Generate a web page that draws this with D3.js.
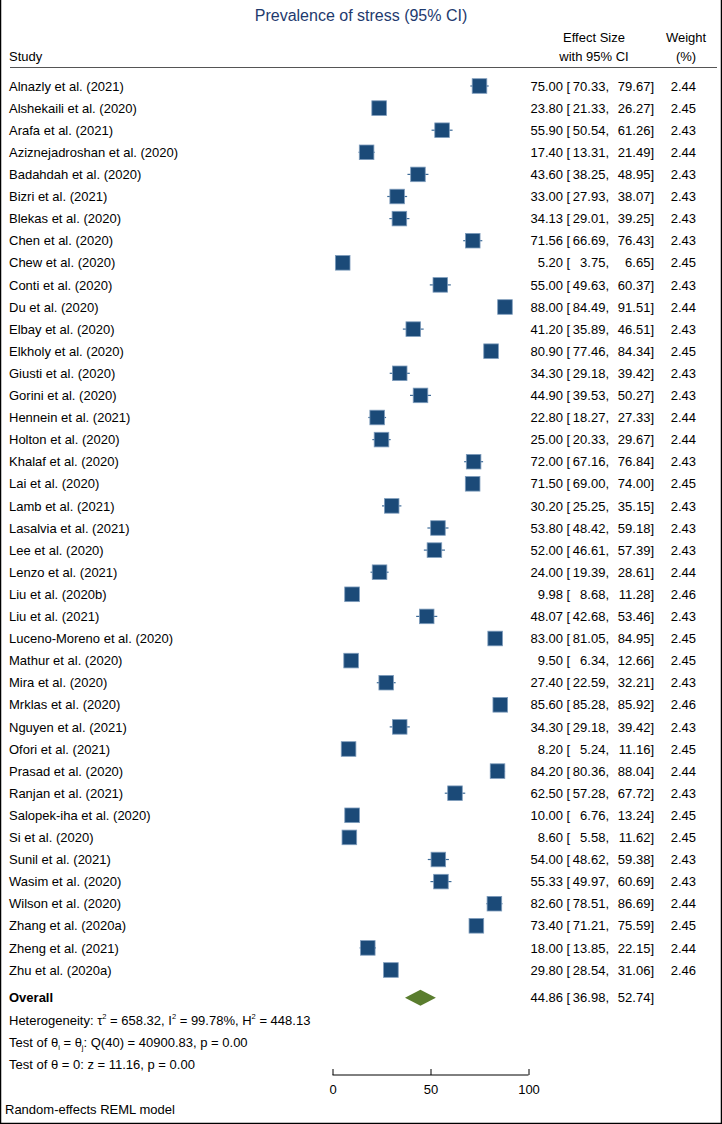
<!DOCTYPE html>
<html><head><meta charset="utf-8">
<script src="https://cdn.jsdelivr.net/npm/d3@7"></script>
<style>body{margin:0;background:#fff}svg{display:block;font-family:"Liberation Sans",Arial,Helvetica,sans-serif}</style>
</head><body><svg id="c" width="722" height="1124"></svg>
<script>
const studies = ["Alnazly et al. (2021)","Alshekaili et al. (2020)","Arafa et al. (2021)","Aziznejadroshan et al. (2020)","Badahdah et al. (2020)","Bizri et al. (2021)","Blekas et al. (2020)","Chen et al. (2020)","Chew et al. (2020)","Conti et al. (2020)","Du et al. (2020)","Elbay et al. (2020)","Elkholy et al. (2020)","Giusti et al. (2020)","Gorini et al. (2020)","Hennein et al. (2021)","Holton et al. (2020)","Khalaf et al. (2020)","Lai et al. (2020)","Lamb et al. (2021)","Lasalvia et al. (2021)","Lee et al. (2020)","Lenzo et al. (2021)","Liu et al. (2020b)","Liu et al. (2021)","Luceno-Moreno et al. (2020)","Mathur et al. (2020)","Mira et al. (2020)","Mrklas et al. (2020)","Nguyen et al. (2021)","Ofori et al. (2021)","Prasad et al. (2020)","Ranjan et al. (2021)","Salopek-iha et al. (2020)","Si et al. (2020)","Sunil et al. (2021)","Wasim et al. (2020)","Wilson et al. (2020)","Zhang et al. (2020a)","Zheng et al. (2021)","Zhu et al. (2020a)"];
const effect = [75.00,23.80,55.90,17.40,43.60,33.00,34.13,71.56,5.20,55.00,88.00,41.20,80.90,34.30,44.90,22.80,25.00,72.00,71.50,30.20,53.80,52.00,24.00,9.98,48.07,83.00,9.50,27.40,85.60,34.30,8.20,84.20,62.50,10.00,8.60,54.00,55.33,82.60,73.40,18.00,29.80];
const lower = [70.33,21.33,50.54,13.31,38.25,27.93,29.01,66.69,3.75,49.63,84.49,35.89,77.46,29.18,39.53,18.27,20.33,67.16,69.00,25.25,48.42,46.61,19.39,8.68,42.68,81.05,6.34,22.59,85.28,29.18,5.24,80.36,57.28,6.76,5.58,48.62,49.97,78.51,71.21,13.85,28.54];
const upper = [79.67,26.27,61.26,21.49,48.95,38.07,39.25,76.43,6.65,60.37,91.51,46.51,84.34,39.42,50.27,27.33,29.67,76.84,74.00,35.15,59.18,57.39,28.61,11.28,53.46,84.95,12.66,32.21,85.92,39.42,11.16,88.04,67.72,13.24,11.62,59.38,60.69,86.69,75.59,22.15,31.06];
const weight = [2.44,2.45,2.43,2.44,2.43,2.43,2.43,2.43,2.45,2.43,2.44,2.43,2.45,2.43,2.43,2.44,2.44,2.43,2.45,2.43,2.43,2.43,2.44,2.46,2.43,2.45,2.45,2.43,2.46,2.43,2.45,2.44,2.43,2.45,2.45,2.43,2.43,2.44,2.45,2.44,2.46];
const overall = {label:"Overall", effect:44.86, lower:36.98, upper:52.74};
const xTicks = [0,50,100];
const statLines = ["Heterogeneity", "Test of θ", "Test of θ = 0: z = 11.16, p = 0.00"];

const svg = d3.select("#c");
const fs = 13;
const x = d3.scaleLinear().domain([0,100]).range([332.5,528.5]);
const y = d3.scaleLinear().domain([0,40]).range([86,970]);
const size = d3.scaleSqrt().domain([0,2.44]).range([0,14.6]);
const tx = 9;

// frame
svg.append("path").attr("d","M0.5,0 V1123.5 H721.5 V0").attr("fill","none").attr("stroke","#000").attr("stroke-width",1.5);

// title
svg.append("text").attr("x",361).attr("y",21).attr("text-anchor","middle").attr("font-size",16).attr("fill","#1e3a6e").text("Prevalence of stress (95% CI)");

// headers
const hdr = svg.append("g").attr("font-size",fs).attr("fill","#000");
hdr.append("text").attr("x",tx).attr("y",61).text("Study");
hdr.append("text").attr("x",594).attr("y",42).attr("text-anchor","middle").text("Effect Size");
hdr.append("text").attr("x",594).attr("y",61).attr("text-anchor","middle").text("with 95% CI");
hdr.append("text").attr("x",686).attr("y",42).attr("text-anchor","middle").text("Weight");
hdr.append("text").attr("x",686).attr("y",61).attr("text-anchor","middle").text("(%)");
svg.append("line").attr("x1",10).attr("x2",717).attr("y1",67.5).attr("y2",67.5).attr("stroke","#555").attr("stroke-width",1);

const rows = studies.map((s,i)=>({s,e:effect[i],l:lower[i],u:upper[i],w:weight[i],i}));
const f2 = d3.format(".2f");
const g = svg.append("g");
const row = g.selectAll("g.r").data(rows).join("g").attr("class","r").attr("transform",d=>`translate(0,${y(d.i)})`);
row.append("text").attr("x",tx).attr("y",4.6).attr("font-size",fs).text(d=>d.s);
row.append("line").attr("x1",d=>x(d.l)).attr("x2",d=>x(d.u)).attr("y1",0).attr("y2",0).attr("stroke","#3d6b98").attr("stroke-width",1.2);
row.append("rect").attr("x",d=>x(d.e)-size(d.w)/2).attr("y",d=>-size(d.w)/2).attr("width",d=>size(d.w)).attr("height",d=>size(d.w))
  .attr("fill","#1b4a78").attr("stroke","#7e9cbc").attr("stroke-width",0.8);
function ciText(sel){
  sel.append("text").attr("x",563).attr("y",4.6).attr("text-anchor","end").attr("font-size",fs).text(d=>f2(d.e));
  sel.append("text").attr("x",566.5).attr("y",4.6).attr("font-size",fs).text("[");
  sel.append("text").attr("x",609).attr("y",4.6).attr("text-anchor","end").attr("font-size",fs).text(d=>f2(d.l)+",");
  sel.append("text").attr("x",654).attr("y",4.6).attr("text-anchor","end").attr("font-size",fs).text(d=>f2(d.u)+"]");
}
ciText(row);
row.append("text").attr("x",696).attr("y",4.6).attr("text-anchor","end").attr("font-size",fs).text(d=>f2(d.w));

// overall
const oy = y(41.25);
const og = svg.append("g").attr("transform",`translate(0,${oy})`);
og.append("text").attr("x",tx).attr("y",4.6).attr("font-size",fs).attr("font-weight","bold").text(overall.label);
og.append("path").attr("d",`M${x(overall.lower)},0 L${x(overall.effect)},-8 L${x(overall.upper)},0 L${x(overall.effect)},8 Z`).attr("fill","#5a7d2e");
ciText(og.selectAll("g").data([{e:overall.effect,l:overall.lower,u:overall.upper}]).join("g"));

// stats
const st = svg.append("g").attr("font-size",fs);
const t1 = st.append("text").attr("x",tx).attr("y",1024.5);
t1.append("tspan").text("Heterogeneity: τ");
t1.append("tspan").attr("dy",-6).attr("font-size",7.5).text("2");
t1.append("tspan").attr("dy",6).text(" = 658.32, I");
t1.append("tspan").attr("dy",-6).attr("font-size",7.5).text("2");
t1.append("tspan").attr("dy",6).text(" = 99.78%, H");
t1.append("tspan").attr("dy",-6).attr("font-size",7.5).text("2");
t1.append("tspan").attr("dy",6).text(" = 448.13");
const t2 = st.append("text").attr("x",tx).attr("y",1046.5);
t2.append("tspan").text("Test of θ");
t2.append("tspan").attr("dy",3).attr("font-size",7.5).text("i");
t2.append("tspan").attr("dy",-3).text(" = θ");
t2.append("tspan").attr("dy",3).attr("font-size",7.5).text("j");
t2.append("tspan").attr("dy",-3).text(": Q(40) = 40900.83, p = 0.00");
st.append("text").attr("x",tx).attr("y",1068.5).text(statLines[2]);

// axis
const ax = svg.append("g").attr("transform","translate(0,1075)")
  .call(d3.axisBottom(x).tickValues(xTicks).tickSize(-6).tickPadding(10).tickFormat(d3.format("d")));
ax.select(".domain").attr("d",`M${x(0)},0H${x(100)}`).attr("stroke","#000");
ax.selectAll(".tick line").attr("y2",-6).attr("stroke","#000");
ax.selectAll("text").attr("font-size",fs).attr("font-family","Liberation Sans, Arial, sans-serif").attr("fill","#000");

svg.append("text").attr("x",5).attr("y",1114).attr("font-size",fs).text("Random-effects REML model");
</script></body></html>
